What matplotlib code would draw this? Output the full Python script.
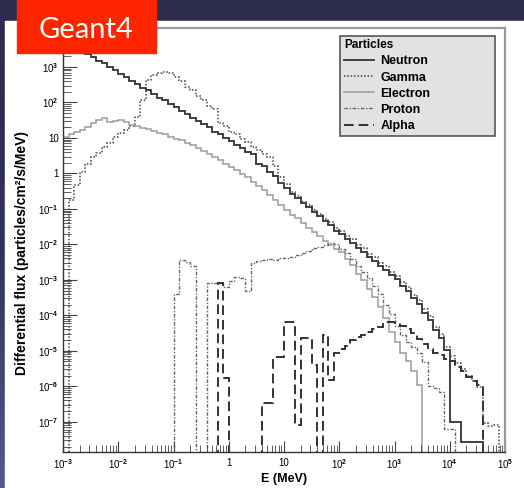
import numpy as np
import matplotlib.pyplot as plt
from matplotlib.patches import Rectangle
from matplotlib.lines import Line2D
from matplotlib.colors import LinearSegmentedColormap
from matplotlib.ticker import FixedLocator, LogLocator, NullFormatter

plt.rcParams['font.family'] = ['Liberation Sans', 'DejaVu Sans']
plt.rcParams['mathtext.fontset'] = 'custom'
plt.rcParams['mathtext.rm'] = 'Liberation Sans:bold'
plt.rcParams['mathtext.it'] = 'Liberation Sans:bold'
plt.rcParams['mathtext.bf'] = 'Liberation Sans:bold'

# 1. Data --------------------------------------------------------------
# histogram bins: 10 per decade, 1e-3 .. 1e5 MeV
e_edges = np.logspace(-3, 5, 81)

# log10 of the differential flux in each bin
# (None = empty bin, the line drops to the bottom of the frame)
neutron = [3.76, 3.66, 3.58, 3.47, 3.38, 3.29, 3.18, 3.10, 3.00, 2.91,
           2.80, 2.72, 2.62, 2.53, 2.42, 2.34, 2.25, 2.13, 2.06, 1.95,
           1.87, 1.75, 1.68, 1.56, 1.49, 1.38, 1.30, 1.18, 1.11, 0.99,
           0.92, 0.80, 0.73, 0.61, 0.54, 0.28, 0.22, 0.04, -0.08, -0.26,
           -0.40, -0.58, -0.68, -0.83, -0.94, -1.09, -1.19, -1.34, -1.45, -1.61,
           -1.70, -1.86, -1.96, -2.11, -2.21, -2.36, -2.46, -2.61, -2.71, -2.87,
           -2.99, -3.18, -3.32, -3.52, -3.68, -3.94, -4.13, -4.42, -4.63, -4.97,
           -7.00, -7.00, -7.56, -7.56, -7.56, -7.56, None, None, None, None]

gamma = [None, -0.75, -0.32, 0.05, 0.28, 0.47, 0.58, 0.74, 0.86, 1.02,
         1.14, 1.22, 1.33, 1.59, 2.07, 2.63, 2.77, 2.83, 2.86, 2.82,
         2.72, 2.62, 2.44, 2.35, 2.18, 2.08, 1.90, 1.82, 1.42, 1.33,
         1.18, 1.12, 0.97, 0.88, 0.74, 0.67, 0.54, 0.47, 0.20, -0.10,
         -0.30, -0.52, -0.65, -0.81, -0.90, -1.04, -1.13, -1.29, -1.38, -1.53,
         -1.61, -1.77, -1.86, -2.02, -2.10, -2.27, -2.36, -2.52, -2.60, -2.78,
         -2.88, -3.07, -3.20, -3.42, -3.58, -3.82, -4.02, -4.32, -4.52, -4.88,
         -5.15, -5.35, -5.52, -5.70, -5.86, -6.02, -7.05, -7.12, -7.10, None]

electron = [1.03, 1.10, 1.16, 1.23, 1.31, 1.42, 1.50, 1.56, 1.45, 1.49,
            1.51, 1.44, 1.37, 1.34, 1.28, 1.26, 1.20, 1.15, 1.10, 1.04,
            0.97, 0.93, 0.85, 0.79, 0.72, 0.64, 0.55, 0.47, 0.37, 0.28,
            0.18, 0.09, -0.03, -0.11, -0.23, -0.35, -0.47, -0.61, -0.74, -0.89,
            -1.02, -1.16, -1.27, -1.41, -1.54, -1.66, -1.77, -1.91, -2.01, -2.13,
            -2.22, -2.41, -2.59, -2.83, -3.01, -3.26, -3.49, -3.76, -4.08, -4.46,
            -4.74, -5.06, -5.29, -5.56, -5.96, None, None, None, None, None,
            None, None, None, None, None, None, None, None, None, None]

proton = [None, None, None, None, None, None, None, None, None, None,
          None, None, None, None, None, None, None, None, None, None,
          -3.40, -2.45, -2.50, -2.60, None, None, -3.08, -3.08, -3.10, -3.20,
          -3.02, -2.92, -2.94, -3.32, -2.52, -2.48, -2.44, -2.40, -2.43, -2.38,
          -2.38, -2.35, -2.31, -2.24, -2.19, -2.11, -2.07, -2.01, -1.97, -2.00,
          -2.12, -2.24, -2.42, -2.60, -2.78, -2.95, -3.16, -3.40, -3.70, -3.96,
          -4.30, -4.55, -4.76, -4.90, -5.06, -5.32, -6.00, -6.06, -6.16, -7.20,
          -7.20, None, None, None, None, None, None, None, None, None]

alpha = [None, None, None, None, None, None, None, None, None, None,
         None, None, None, None, None, None, None, None, None, None,
         None, None, None, None, None, None, None, None, -3.10, -5.76,
         None, None, None, None, None, None, -6.46, -6.46, -5.17, -5.17,
         -4.18, -4.18, -7.10, -4.63, -4.63, -5.39, None, -4.55, -5.82, -5.06,
         -4.95, -4.86, -4.70, -4.62, -4.55, -4.47, -4.40, -4.33, -4.20, -4.18,
         -4.22, -4.30, -4.40, -4.49, -4.66, -4.82, -4.94, -5.06, -5.12, -5.23,
         -5.30, -5.46, -5.58, -5.73, -5.85, -5.96, None, None, None, None]

particles = ['Neutron', 'Gamma', 'Electron', 'Proton', 'Alpha']
series = [neutron, gamma, electron, proton, alpha]

x_ticks = [1e-3, 1e-2, 1e-1, 1, 10, 1e2, 1e3, 1e4, 1e5]
x_tick_labels = ['10$^{-3}$', '10$^{-2}$', '10$^{-1}$', '1', '10',
                 '10$^{2}$', '10$^{3}$', '10$^{4}$', '10$^{5}$']
y_ticks = [1e-7, 1e-6, 1e-5, 1e-4, 1e-3, 1e-2, 1e-1, 1, 10, 1e2, 1e3]
y_tick_labels = ['10$^{-7}$', '10$^{-6}$', '10$^{-5}$', '10$^{-4}$', '10$^{-3}$',
                 '10$^{-2}$', '10$^{-1}$', '1', '10', '10$^{2}$', '10$^{3}$']

# line styles for each particle
styles = {
    'Neutron': dict(color='#333333', linestyle='-', linewidth=1.3),
    'Gamma': dict(color='#444444', linestyle=(0, (1, 1.2)), linewidth=1.1),
    'Electron': dict(color='#9c9c9c', linestyle='-', linewidth=1.1),
    'Proton': dict(color='#666666', linestyle=(0, (2.5, 1.2, 1, 1.2)), linewidth=1.0),
    'Alpha': dict(color='#333333', linestyle=(0, (5, 2.5)), linewidth=1.4),
}


def to_flux(vals, floor=1e-10):
    v = np.array([np.nan if s is None else s for s in vals], dtype=float)
    return np.where(np.isnan(v), floor, 10.0 ** v)


# 2. Figure ------------------------------------------------------------
fig = plt.figure(figsize=(5.24, 4.88), dpi=100)

# slide background: dark band on top, bluish strip on the left
bg = fig.add_axes([0, 0, 1, 1], zorder=-2)
grad = np.linspace(0, 1, 256).reshape(-1, 1)
cmap = LinearSegmentedColormap.from_list('slide', ['#2c2b4e', '#30315a', '#505990'])
bg.imshow(grad, cmap=cmap, aspect='auto', extent=[0, 1, 0, 1])
bg.add_patch(Rectangle((5 / 524, 0), 1, 1 - 21 / 488, color='white'))
bg.set_xlim(0, 1)
bg.set_ylim(0, 1)
bg.axis('off')

ax = fig.add_axes([63 / 524, 1 - 452 / 488, 442 / 524, 424 / 488])
ax.set_facecolor('white')

for name, vals in zip(particles, series):
    ax.stairs(to_flux(vals), e_edges, label=name, **styles[name])

ax.set_xscale('log')
ax.set_yscale('log')
ax.set_xlim(1e-3, 1e5)
ax.set_ylim(1.4e-8, 1.26e4)

ax.xaxis.set_major_locator(FixedLocator(x_ticks))
ax.set_xticklabels(x_tick_labels)
ax.yaxis.set_major_locator(FixedLocator(y_ticks))
ax.set_yticklabels(y_tick_labels)
ax.xaxis.set_minor_locator(LogLocator(base=10, subs=np.arange(2, 10), numticks=20))
ax.yaxis.set_minor_locator(LogLocator(base=10, subs=np.arange(2, 10), numticks=20))
ax.xaxis.set_minor_formatter(NullFormatter())
ax.yaxis.set_minor_formatter(NullFormatter())
ax.tick_params(which='both', direction='in', color='#444444', labelsize=7,
               top=False, right=False)
ax.tick_params(axis='x', which='major', length=8, pad=4)
ax.tick_params(axis='x', which='minor', length=5)
ax.tick_params(axis='y', which='major', length=10, pad=3)
ax.tick_params(axis='y', which='minor', length=6)

for side in ['left', 'bottom']:
    ax.spines[side].set_color('#333333')
    ax.spines[side].set_linewidth(1.0)
for side in ['top', 'right']:
    ax.spines[side].set_color('#9a9a9a')
    ax.spines[side].set_linewidth(1.6)

ax.set_xlabel('E (MeV)', fontsize=9, fontweight='bold', labelpad=1)
ax.set_ylabel('Differential flux (particles/cm²/s/MeV)', fontsize=10,
              fontweight='bold')
ax.yaxis.set_label_coords(-0.078, 0.47)

handles = [Line2D([], [], **styles[n]) for n in particles]
leg = ax.legend(handles, particles, title='Particles', loc='upper left',
                bbox_to_anchor=(0.622, 0.5, 0.362, 0.488), mode='expand',
                prop={'weight': 'bold', 'size': 9},
                title_fontproperties={'weight': 'bold', 'size': 8.5},
                frameon=True, fancybox=False, facecolor='#e2e2e2',
                edgecolor='#555555', framealpha=1, handlelength=2.4,
                handletextpad=0.5, labelspacing=0.33, borderpad=0.3,
                borderaxespad=0.2, alignment='left')
leg.get_frame().set_linewidth(1.2)

# red "Geant4" tag in the top-left corner of the slide
fig.add_artist(Rectangle((17 / 524, 1 - 53 / 488), 139 / 524, 53 / 488,
                         transform=fig.transFigure, color='#ff2400', zorder=10))
fig.text(86 / 524, 1 - 38 / 488, 'Geant4', color='white', fontsize=21,
         family=['Lato', 'DejaVu Sans'], ha='center', va='baseline', zorder=11)

fig.savefig('out.png', dpi=100)
